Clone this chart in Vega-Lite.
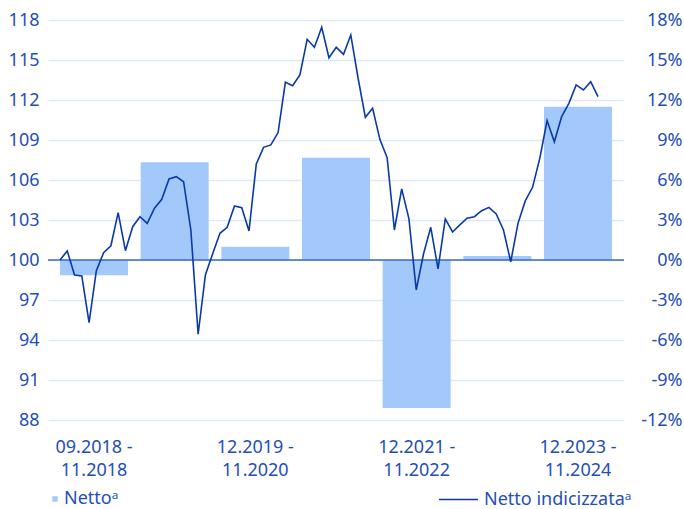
{
  "$schema": "https://vega.github.io/schema/vega-lite/v6.json",
  "width": 576,
  "height": 400,
  "autosize": {"type": "none"},
  "padding": {"left": 48, "top": 20, "right": 60, "bottom": 89},
  "config": {
    "font": "Noto Sans",
    "view": {"stroke": null},
    "axis": {"labelFont": "Noto Sans", "labelColor": "#1f4fb5", "labelFontSize": 18, "domain": false, "ticks": false, "title": null, "labelOverlap": false},
    "legend": {"orient": "none", "padding": 0, "labelFont": "Noto Sans", "labelFontSize": 18, "labelColor": "#1f4fb5", "title": null}
  },
  "datasets": {
    "bars": [
      {"period": "09.2018 - 11.2018", "pct": -1.15},
      {"period": "12.2018 - 11.2019", "pct": 7.33},
      {"period": "12.2019 - 11.2020", "pct": 1.0},
      {"period": "12.2020 - 11.2021", "pct": 7.67},
      {"period": "12.2021 - 11.2022", "pct": -11.1},
      {"period": "12.2022 - 11.2023", "pct": 0.3},
      {"period": "12.2023 - 11.2024", "pct": 11.5}
    ],
    "line": [
      {"i": 0, "v": 100}, {"i": 1, "v": 100.68}, {"i": 2, "v": 98.88}, {"i": 3, "v": 98.8}, {"i": 4, "v": 95.3},
      {"i": 5, "v": 99.2}, {"i": 6, "v": 100.55}, {"i": 7, "v": 101.07}, {"i": 8, "v": 103.55}, {"i": 9, "v": 100.7},
      {"i": 10, "v": 102.5}, {"i": 11, "v": 103.25}, {"i": 12, "v": 102.75}, {"i": 13, "v": 103.88}, {"i": 14, "v": 104.55},
      {"i": 15, "v": 106.08}, {"i": 16, "v": 106.25}, {"i": 17, "v": 105.87}, {"i": 18, "v": 102.25}, {"i": 19, "v": 94.43},
      {"i": 20, "v": 98.88}, {"i": 21, "v": 100.47}, {"i": 22, "v": 102.0}, {"i": 23, "v": 102.45}, {"i": 24, "v": 104.05},
      {"i": 25, "v": 103.92}, {"i": 26, "v": 102.18}, {"i": 27, "v": 107.2}, {"i": 28, "v": 108.45}, {"i": 29, "v": 108.63},
      {"i": 30, "v": 109.56}, {"i": 31, "v": 113.33}, {"i": 32, "v": 113.07}, {"i": 33, "v": 113.88}, {"i": 34, "v": 116.55},
      {"i": 35, "v": 115.95}, {"i": 36, "v": 117.45}, {"i": 37, "v": 115.17}, {"i": 38, "v": 115.95}, {"i": 39, "v": 115.43},
      {"i": 40, "v": 116.88}, {"i": 41, "v": 113.65}, {"i": 42, "v": 110.7}, {"i": 43, "v": 111.38}, {"i": 44, "v": 109.05},
      {"i": 45, "v": 107.67}, {"i": 46, "v": 102.25}, {"i": 47, "v": 105.33}, {"i": 48, "v": 103.08}, {"i": 49, "v": 97.75},
      {"i": 50, "v": 100.45}, {"i": 51, "v": 102.45}, {"i": 52, "v": 99.33}, {"i": 53, "v": 103.08}, {"i": 54, "v": 102.1},
      {"i": 55, "v": 102.63}, {"i": 56, "v": 103.13}, {"i": 57, "v": 103.25}, {"i": 58, "v": 103.7}, {"i": 59, "v": 103.95},
      {"i": 60, "v": 103.45}, {"i": 61, "v": 102.25}, {"i": 62, "v": 99.87}, {"i": 63, "v": 102.75}, {"i": 64, "v": 104.43},
      {"i": 65, "v": 105.45}, {"i": 66, "v": 107.63}, {"i": 67, "v": 110.45}, {"i": 68, "v": 108.87}, {"i": 69, "v": 110.75},
      {"i": 70, "v": 111.75}, {"i": 71, "v": 113.13}, {"i": 72, "v": 112.75}, {"i": 73, "v": 113.37}, {"i": 74, "v": 112.25}
    ]
  },
  "layer": [
    {
      "layer": [
        {
          "data": {"name": "bars"},
          "mark": {"type": "bar", "color": "#a3c9fb"},
          "encoding": {
            "x": {
              "field": "period", "type": "nominal", "sort": null,
              "scale": {"paddingInner": 0.157, "paddingOuter": 0.149},
              "axis": {
                "values": ["09.2018 - 11.2018", "12.2019 - 11.2020", "12.2021 - 11.2022", "12.2023 - 11.2024"],
                "labelExpr": "[slice(datum.label, 0, 9), slice(datum.label, 10)]",
                "labelAngle": 0, "labelPadding": 18, "labelLineHeight": 23, "grid": false
              }
            },
            "y": {
              "field": "pct", "type": "quantitative",
              "scale": {"domain": [-12, 18], "nice": false, "zero": false},
              "axis": {"orient": "right", "values": [-12, -9, -6, -3, 0, 3, 6, 9, 12, 15, 18], "labelExpr": "datum.value + '%'", "labelAlign": "right", "labelPadding": 58, "labelOverlap": false, "grid": false}
            },
            "color": {
              "datum": "Nettoᵃ",
              "scale": {"range": ["#a3c9fb"]},
              "legend": {"legendX": -2, "legendY": 470, "symbolType": "square", "symbolSize": 30, "labelOffset": 0}
            }
          }
        },
        {
          "data": {"values": [{"z": 0}]},
          "mark": {"type": "rule", "color": "#3b69c4", "strokeWidth": 1.5},
          "encoding": {
            "y": {
              "field": "z", "type": "quantitative",
              "axis": {"orient": "right", "values": [-12, -9, -6, -3, 0, 3, 6, 9, 12, 15, 18], "labelExpr": "datum.value + '%'", "labelAlign": "right", "labelPadding": 58, "labelOverlap": false, "grid": false}
            }
          }
        }
      ]
    },
    {
      "data": {"name": "line"},
      "mark": {"type": "line", "strokeWidth": 1.6, "color": "#0a3aa8"},
      "encoding": {
        "x": {"field": "i", "type": "quantitative", "scale": {"domain": [-1.65, 77.58], "nice": false, "zero": false}, "axis": null},
        "y": {
          "field": "v", "type": "quantitative",
          "scale": {"domain": [88, 118], "nice": false, "zero": false},
          "axis": {"orient": "left", "values": [88, 91, 94, 97, 100, 103, 106, 109, 112, 115, 118], "labelPadding": 9, "grid": true, "gridColor": "#dde9fb", "gridWidth": 1.5}
        },
        "stroke": {
          "datum": "Netto indicizzataᵃ",
          "scale": {"range": ["#0a3aa8"]},
          "legend": {"legendX": 390, "legendY": 459, "symbolType": "stroke", "symbolSize": 1521, "symbolStrokeWidth": 1.6, "labelOffset": 5}
        }
      }
    }
  ],
  "resolve": {"scale": {"x": "independent", "y": "independent", "color": "independent"}, "axis": {"y": "independent", "x": "independent"}}
}
